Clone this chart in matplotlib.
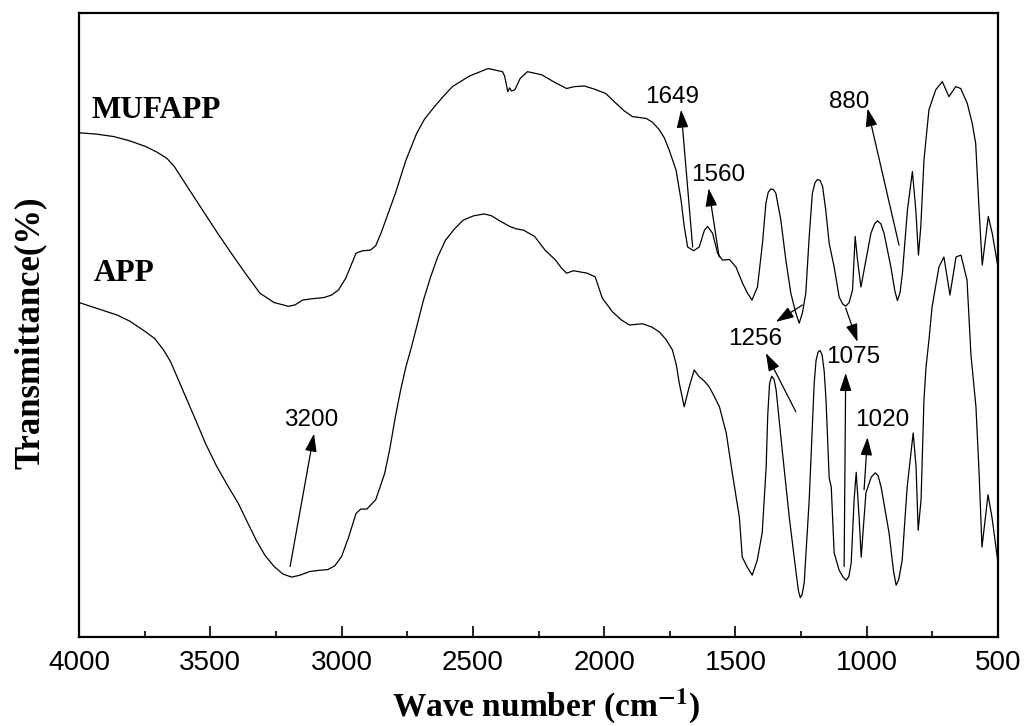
import matplotlib
matplotlib.use("Agg")
import matplotlib.pyplot as plt
from matplotlib.ticker import MultipleLocator

plt.rcParams['mathtext.fontset'] = 'stix'

# ---- data ----
mufapp_wn = [4000, 3935, 3868, 3806, 3746, 3703, 3665, 3637, 3585, 3529, 3475, 3420, 3365, 3311,
             3257, 3203, 3178, 3148, 3114, 3067, 3038, 3012, 2984, 2945, 2920, 2890, 2870, 2850,
             2825, 2795, 2755, 2714, 2684, 2646, 2611, 2578, 2513, 2442, 2387, 2379, 2367, 2360,
             2353, 2340, 2330, 2320, 2292, 2238, 2189, 2143, 2113, 2075, 2037, 1994, 1954, 1923,
             1892, 1840, 1816, 1790, 1771, 1752, 1726, 1707, 1695, 1682, 1659, 1638, 1618, 1606,
             1587, 1568, 1549, 1523, 1498, 1473, 1454, 1437, 1416, 1397, 1384, 1375, 1365, 1355,
             1346, 1327, 1308, 1289, 1270, 1257, 1245, 1232, 1219, 1207, 1197, 1188, 1178, 1168,
             1156, 1143, 1124, 1105, 1092, 1080, 1067, 1054, 1044, 1035, 1022, 1003, 984, 970,
             959, 946, 934, 908, 893, 883, 873, 864, 845, 826, 813, 803, 794, 782, 763, 737, 712,
             687, 661, 642, 617, 598, 585, 572, 560, 537, 522, 500]
mufapp_t = [80.8, 80.6, 80.2, 79.5, 78.6, 77.7, 76.7, 75.4, 72.0, 68.4, 64.9, 61.5, 58.2, 55.1,
            53.6, 53.0, 53.2, 54.0, 54.2, 54.4, 54.8, 55.6, 57.5, 61.5, 61.9, 62.0, 62.7, 64.7,
            67.6, 71.1, 76.4, 80.7, 83.0, 85.0, 86.7, 88.2, 89.9, 91.1, 90.6, 89.9, 87.4, 88.0,
            87.5, 87.7, 88.6, 89.5, 90.6, 90.1, 88.9, 87.9, 88.2, 88.3, 87.8, 87.1, 85.5, 84.3,
            83.4, 83.1, 82.5, 81.3, 80.0, 78.0, 74.8, 70.0, 65.8, 62.5, 61.9, 62.5, 65.2, 65.8,
            64.7, 61.5, 60.4, 60.5, 59.3, 56.7, 55.1, 54.0, 56.1, 63.1, 69.5, 71.3, 71.8, 71.7,
            71.1, 66.8, 60.4, 55.1, 51.9, 50.3, 51.9, 55.1, 64.2, 71.1, 72.8, 73.3, 73.2, 72.2,
            68.4, 63.1, 59.3, 54.5, 53.4, 53.0, 53.6, 55.6, 64.2, 60.4, 56.1, 60.4, 64.7, 66.2,
            66.7, 66.2, 64.7, 59.3, 55.5, 53.9, 55.2, 58.3, 68.4, 74.6, 68.4, 61.2, 65.8, 76.4,
            84.5, 87.7, 89.0, 86.6, 88.2, 87.9, 85.5, 82.3, 79.1, 68.4, 59.6, 67.4, 64.7, 59.3]

app_wn = [4000, 3928, 3855, 3806, 3746, 3711, 3678, 3651, 3610, 3556, 3517, 3475, 3433, 3393,
          3361, 3325, 3292, 3257, 3224, 3190, 3159, 3121, 3083, 3053, 3026, 3000, 2973, 2945,
          2927, 2904, 2870, 2836, 2817, 2795, 2775, 2755, 2733, 2714, 2688, 2661, 2634, 2604,
          2570, 2537, 2497, 2456, 2429, 2402, 2360, 2334, 2307, 2265, 2225, 2185, 2162, 2143,
          2117, 2090, 2064, 2034, 2007, 1968, 1934, 1904, 1854, 1820, 1790, 1763, 1740, 1725,
          1714, 1695, 1676, 1657, 1638, 1618, 1600, 1581, 1561, 1535, 1512, 1485, 1474, 1455,
          1436, 1417, 1398, 1383, 1377, 1370, 1362, 1353, 1345, 1322, 1295, 1269, 1260, 1253,
          1246, 1238, 1219, 1200, 1193, 1185, 1177, 1170, 1162, 1155, 1143, 1135, 1124, 1105,
          1090, 1078, 1068, 1059, 1048, 1040, 1029, 1021, 1003, 983, 968, 957, 945, 915, 898,
          888, 878, 865, 846, 823, 812, 804, 793, 782, 774, 763, 751, 725, 706, 683, 660, 641,
          618, 603, 584, 572, 561, 538, 523, 500]
app_t = [53.6, 52.6, 51.6, 50.6, 48.9, 47.8, 46.0, 44.1, 40.1, 34.8, 30.9, 27.3, 24.2, 21.4,
         18.6, 15.5, 13.1, 11.3, 10.1, 9.6, 9.9, 10.5, 10.7, 10.8, 11.4, 12.9, 16.0, 19.8,
         20.5, 20.5, 22.0, 26.2, 30.0, 35.3, 39.6, 43.3, 46.6, 49.7, 54.0, 57.7, 60.9, 63.6,
         65.4, 66.8, 67.5, 67.8, 67.5, 66.8, 65.8, 65.4, 65.2, 64.2, 62.0, 60.4, 59.1, 58.3,
         58.7, 58.5, 58.3, 57.7, 54.3, 52.1, 50.8, 50.0, 50.2, 49.7, 48.9, 47.6, 46.0, 43.6,
         40.7, 36.9, 40.1, 42.8, 41.7, 41.0, 40.1, 38.6, 36.9, 32.7, 26.3, 19.2, 12.8, 11.2,
         9.9, 12.3, 16.7, 27.2, 35.5, 40.6, 41.8, 41.3, 39.6, 30.0, 19.2, 10.3, 7.4, 6.3,
         6.8, 8.7, 22.0, 40.7, 44.3, 45.7, 45.9, 45.2, 42.6, 38.0, 25.5, 24.0, 13.5, 10.7,
         9.6, 9.1, 9.7, 11.9, 22.0, 26.4, 19.2, 12.8, 23.1, 25.6, 26.3, 25.9, 24.0, 16.7, 10.6,
         8.3, 9.2, 12.3, 24.0, 32.7, 27.2, 17.1, 22.0, 38.0, 43.3, 47.6, 52.9, 59.3, 60.9,
         54.8, 60.9, 61.2, 57.2, 45.2, 36.9, 26.3, 14.4, 22.8, 19.2, 11.9]

series_names = ["MUFAPP", "APP"]

# annotations: label, text position, list of (arrow tail, arrow tip)
ann_labels = ["3200", "1649", "1560", "880", "1256", "1075", "1020"]
ann_text_pos = [(3114, 34.7), (1740, 86.6), (1565, 74.0), (1066, 85.8),
                (1425, 47.7), (1051, 44.9), (940, 34.8)]
ann_arrows = [
    [((3196, 11.3), (3105, 32.6))],
    [((1663, 62.5), (1707, 84.5))],
    [((1562, 60.9), (1602, 71.9))],
    [((877, 62.8), (997, 84.7))],
    [((1245, 53.2), (1346, 50.5)), ((1270, 36.1), (1384, 45.5))],
    [((1080, 52.7), (1035, 47.3)), ((1086, 11.3), (1080, 42.3))],
    [((1010, 23.6), (997, 32.0))],
]

# ---- figure ----
W, H = 1029, 726
fig = plt.figure(figsize=(W / 100, H / 100), dpi=100)
ax = fig.add_axes([79 / W, 1 - 637 / H, (998 - 79) / W, (637 - 13) / H])

ax.plot(mufapp_wn, mufapp_t, color='black', lw=0.9, solid_joinstyle='round')
ax.plot(app_wn, app_t, color='black', lw=0.9, solid_joinstyle='round')

ax.set_xlim(4000, 500)
ax.set_ylim(0, 100)

ax.xaxis.set_major_locator(MultipleLocator(500))
ax.xaxis.set_minor_locator(MultipleLocator(250))
ax.tick_params(axis='x', which='major', direction='in', length=8, width=1.2,
               labelsize=20, pad=9)
ax.tick_params(axis='x', which='minor', direction='in', length=4, width=1.2)
ax.set_yticks([])
for lab in ax.get_xticklabels():
    lab.set_fontfamily('Liberation Sans')
for s in ax.spines.values():
    s.set_linewidth(1.6)

serif_bold = dict(family='Liberation Serif', weight='bold')
ax.text(3951, 84.4, series_names[0], ha='left', va='center', fontsize=22.5, **serif_bold)
ax.text(3943, 58.2, series_names[1], ha='left', va='center', fontsize=22.5, **serif_bold)

for lab, pos, arrows in zip(ann_labels, ann_text_pos, ann_arrows):
    ax.text(pos[0], pos[1], lab, ha='center', va='center', fontsize=17.5,
            family='Liberation Sans')
    for tail, tip in arrows:
        ax.annotate('', xy=tip, xytext=tail,
                    arrowprops=dict(arrowstyle='-|>,head_length=0.55,head_width=0.18',
                                    mutation_scale=20, color='black', lw=0.9,
                                    shrinkA=0, shrinkB=0))

fig.text(30 / W, 1 - 333 / H, 'Transmittance(%)', rotation=90, ha='center', va='center',
         fontsize=25, **serif_bold)
fig.text(546 / W, (H - 716) / H, r'Wave number (cm$^{\mathbf{-1}}$)', ha='center',
         va='baseline', fontsize=24, **serif_bold)

fig.savefig('out.png', dpi=100)
